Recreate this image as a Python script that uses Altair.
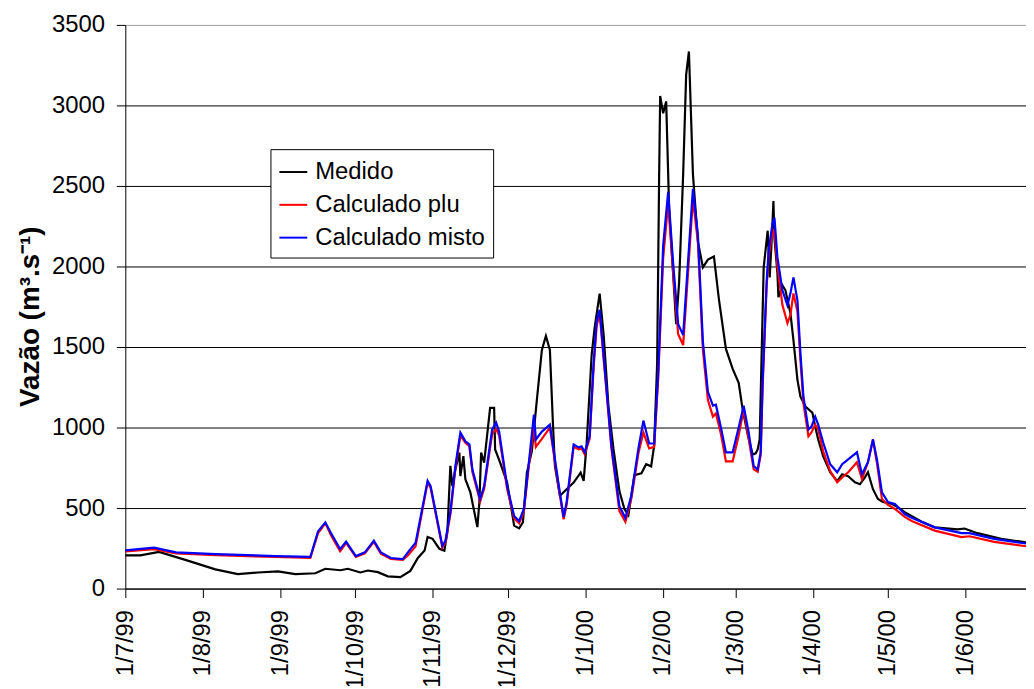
import altair as alt
import pandas as pd

# ---- data (days since 1/7/1999, discharge m3/s) ----
dias_medido = [0, 6, 13.5, 24, 36, 45, 53, 61, 68, 76, 80, 86, 89, 94, 97, 101, 105, 110, 114, 117, 119.7,
               120.9, 122.9, 125.6, 127.6, 128.8, 130.0, 130.8, 132.0, 133.6, 134.0, 135.2, 136.0, 138.0,
               140.8, 141.6, 142.3, 143.5, 145.9, 147.5, 147.9, 149.9, 152.7, 155.5, 157.5, 159.0, 160.6,
               162.6, 164.6, 166.6, 168.2, 169.8, 171.0, 171.8, 173.8, 176.5, 179.3, 182.1, 183.3, 184.5,
               186.5, 187.7, 189.7, 191.3, 193.2, 195.2, 197.6, 199.6, 201.2, 203.6, 206.4, 208.3, 210.3,
               211.5, 212.7, 213.5, 213.9, 215.1, 216.3, 217.5, 219.1, 220.3, 221.5, 223.1, 224.3, 225.4,
               227.0, 229.0, 231.0, 233.0, 235.4, 237.4, 240.2, 242.9, 245.3, 246.9, 248.9, 250.9, 252.1,
               252.9, 253.7, 254.5, 255.3, 256.9, 257.7, 258.5, 259.2, 259.6, 260.8, 261.2, 262.8, 264.0,
               266.0, 267.2, 268.8, 270.0, 272.0, 274.8, 275.9, 277.1, 279.1, 281.9, 284.7, 286.7, 289.1,
               291.8, 293.8, 295.8, 297.0, 299.0, 301.0, 303.0, 306.6, 308.9, 311.7, 318.5, 323.7, 332.8,
               335.6, 340.8, 350.3, 361]
q_medido = [206, 206, 228, 178, 119, 90, 100, 107, 90, 95, 123, 114, 123, 100, 112, 102, 76, 71, 110, 190, 237,
            321, 309, 247, 235, 350, 762, 636, 740, 844, 698, 822, 679, 597,
            382, 537, 844, 782, 1122, 1122, 864, 782, 658, 391, 374, 411, 720,
            854, 1173, 1482, 1568, 1482, 1031, 762, 576, 617, 658, 720, 669, 900,
            1450, 1620, 1831, 1576, 1136, 870, 605, 494, 457, 704, 716, 772, 759,
            889, 1401, 2574, 3059, 2951, 3025, 2352, 1951, 1642, 1907, 2574, 3191, 3335,
            2574, 2154, 1994, 2043, 2062, 1796, 1488, 1364, 1278, 1111, 957, 833, 840,
            864, 926, 1463, 1994, 2222, 1932, 2160, 2407, 2179, 1957, 1809, 1883, 1852,
            1710, 1543, 1296, 1191, 1130, 1092, 1006, 926, 821, 722, 667, 710, 698,
            660, 648, 691, 722, 617, 556, 537, 525, 506, 475, 415, 380, 368,
            373, 344, 309, 285]

dias_plu = [0, 11.5, 20.3, 36.2, 60, 74, 77.1, 80, 82.3, 85.9, 88.3, 92.2, 95.8, 99.4, 102.2, 106.2, 111, 113,
            116.1, 120.9, 122.1, 126.8, 128.0, 130.0, 132.0, 134.0, 136.0, 137.6, 138.8, 141.9, 143.5, 146.7,
            148.3, 149.5, 152.7, 155.5, 157.5, 159.4, 161.4, 163.4, 164.2, 166.6, 169.8, 173.4, 175.3, 176.5,
            179.3, 181.3, 182.5, 183.7, 185.7, 187.3, 188.5, 189.7, 192.4, 194.4, 197.6, 200.0, 202.4, 205.2,
            207.2, 209.5, 211.5, 213.1, 215.1, 217.1, 219.1, 221.1, 223.1, 225.0, 227.0, 229.0, 231.0, 233.0,
            235.0, 236.2, 238.2, 240.2, 242.9, 245.3, 247.3, 249.3, 251.3, 252.9, 254.1, 254.9, 256.5, 257.3,
            258.8, 259.6, 260.8, 262.8, 264.8, 266.0, 267.2, 268.8, 270.0, 271.2, 273.2, 274.4, 275.9, 277.1,
            279.1, 281.9, 284.7, 286.7, 289.1, 292.6, 294.6, 297.0, 299.0, 300.6, 302.6, 305.0, 307.8, 311.7,
            314.5, 323.7, 334.4, 337.6, 347.5, 361]
q_plu = [230, 245, 218, 208, 196, 190, 345, 405, 330, 232, 283, 196, 218, 290, 216, 184, 178, 205,
         262, 660, 625, 255, 285, 460, 745, 950, 905, 885, 725, 540, 620, 960,
         990, 950, 620, 435, 405, 480, 765, 1000, 880, 930, 1000, 620, 430, 520,
         880, 865, 870, 835, 930, 1380, 1630, 1710, 1230, 870, 481, 414, 560, 840,
         969, 870, 880, 1300, 2050, 2395, 1960, 1580, 1512, 1950, 2420, 2150, 1480, 1170,
         1068, 1087, 960, 790, 790, 950, 1111, 930, 740, 725, 830, 1260, 1880, 2070,
         2200, 2234, 2000, 1760, 1648, 1700, 1833, 1720, 1420, 1150, 945, 969, 1018, 990,
         852, 730, 660, 690, 722, 784, 679, 784, 926, 780, 556, 520, 494, 445,
         420, 360, 320, 325, 290, 261]

dias_misto = [0, 11.5, 20.3, 36.2, 60, 74, 77.1, 80, 82.3, 85.9, 88.3, 92.2, 95.8, 99.4, 102.2, 106.2, 111, 113,
              116.1, 120.9, 122.1, 126.8, 128.0, 130.0, 132.0, 134.0, 136.0, 137.6, 138.8, 141.9, 143.5, 146.7,
              148.3, 149.5, 152.7, 155.5, 157.5, 159.4, 161.4, 163.4, 164.2, 166.6, 169.8, 173.4, 175.3, 176.5,
              179.3, 181.3, 182.5, 183.7, 185.7, 187.3, 188.5, 189.7, 192.4, 194.4, 197.6, 200.0, 202.4, 205.2,
              207.2, 209.5, 211.5, 213.1, 215.1, 217.1, 219.1, 221.1, 223.1, 225.0, 227.0, 229.0, 231.0, 233.0,
              235.0, 236.2, 238.2, 240.2, 242.9, 245.3, 247.3, 249.3, 251.3, 252.9, 254.1, 254.9, 256.5, 257.3,
              258.8, 259.6, 260.8, 262.8, 264.8, 266.0, 267.2, 268.8, 270.0, 271.2, 273.2, 274.4, 275.9, 277.1,
              279.1, 281.9, 284.7, 286.7, 289.1, 292.6, 294.6, 297.0, 299.0, 300.6, 302.6, 305.0, 307.8, 311.7,
              314.5, 323.7, 334.4, 337.6, 347.5, 361]
q_misto = [237, 254, 225, 214, 202, 197, 356, 411, 344, 245, 292, 202, 225, 297, 225, 190, 183, 225,
           285, 669, 636, 265, 296, 475, 760, 969, 914, 895, 740, 556, 636, 988,
           1031, 975, 636, 451, 420, 494, 784, 1080, 926, 975, 1018, 636, 444, 537,
           895, 877, 883, 846, 945, 1400, 1660, 1731, 1247, 889, 512, 438, 580, 870,
           1043, 901, 901, 1333, 2130, 2463, 2019, 1642, 1574, 2019, 2482, 2198, 1531, 1222,
           1136, 1142, 1000, 846, 846, 1000, 1136, 969, 760, 740, 846, 1296, 1913, 2099,
           2266, 2303, 2056, 1852, 1759, 1833, 1932, 1790, 1463, 1191, 988, 1006, 1068, 1018,
           907, 772, 722, 772, 802, 846, 710, 784, 926, 802, 597, 537, 525, 463,
           439, 380, 344, 344, 309, 278]

series = ["Medido", "Calculado plu", "Calculado misto"]
cores = ["#000000", "#ff0000", "#0000ff"]
meses = [(1999, 7), (1999, 8), (1999, 9), (1999, 10), (1999, 11), (1999, 12),
         (2000, 1), (2000, 2), (2000, 3), (2000, 4), (2000, 5), (2000, 6)]
y_ticks = [0, 500, 1000, 1500, 2000, 2500, 3000, 3500]

inicio = pd.Timestamp("1999-07-01")


def tabela(nome, dias, q):
    return pd.DataFrame({
        "data": [(inicio + pd.Timedelta(days=d)).strftime("%Y-%m-%dT%H:%M:%S") for d in dias],
        "vazao": q,
        "serie": nome,
    })


df = pd.concat([
    tabela(series[0], dias_medido, q_medido),
    tabela(series[1], dias_plu, q_plu),
    tabela(series[2], dias_misto, q_misto),
], ignore_index=True)

FONT = "Liberation Sans"

x_enc = alt.X(
    "data:T",
    scale=alt.Scale(domain=[alt.DateTime(year=1999, month=7, date=1),
                            alt.DateTime(year=2000, month=6, date=25, hours=5)], nice=False),
    axis=alt.Axis(
        values=[alt.DateTime(year=a, month=m, date=1) for a, m in meses],
        format="%-d/%-m/%y", labelAngle=-90, labelFontSize=24, labelFont=FONT,
        labelColor="black", tickSize=9, tickColor="black", domainColor="black",
        labelPadding=12, grid=False, title=None, labelOverlap=False, labelFlush=False,
    ),
)
y_enc = alt.Y(
    "vazao:Q",
    scale=alt.Scale(domain=[0, 3500], nice=False),
    axis=alt.Axis(
        values=y_ticks, format="d", title="Vazão (m³.s⁻¹)", titleFontSize=28, titleFontWeight="bold",
        titleFont=FONT, titleColor="black", titlePadding=7, titleY=293,
        labelFontSize=24, labelFont=FONT, labelColor="black", labelPadding=12,
        tickSize=9, tickColor="black", domainColor="black",
        gridColor={"condition": {"test": "datum.value === 3500", "value": "#a0a0a0"}, "value": "#000000"},
        gridWidth=1,
    ),
)
color_enc = alt.Color(
    "serie:N",
    scale=alt.Scale(domain=series, range=cores),
    legend=alt.Legend(
        orient="none", legendX=146, legendY=125, title=None,
        fillColor="white", strokeColor="black", padding=8,
        labelFontSize=24, labelFont=FONT, labelColor="black", labelLimit=0,
        symbolType="stroke", symbolSize=784, symbolStrokeWidth=2,
        rowPadding=6, labelOffset=7,
    ),
)

layers = [
    alt.Chart(df).transform_filter(alt.datum.serie == s).mark_line(strokeWidth=2.2)
    .encode(x=x_enc, y=y_enc, color=color_enc)
    for s in series
]

chart = alt.layer(*layers).properties(
    width=906, height=567,
    autosize=alt.AutoSizeParams(type="none"),
    padding={"left": 118, "top": 15, "right": 0, "bottom": 96},
    background="white",
).configure_view(stroke=None)

chart.save("out.html", embed_options={"renderer": "svg", "actions": False})
